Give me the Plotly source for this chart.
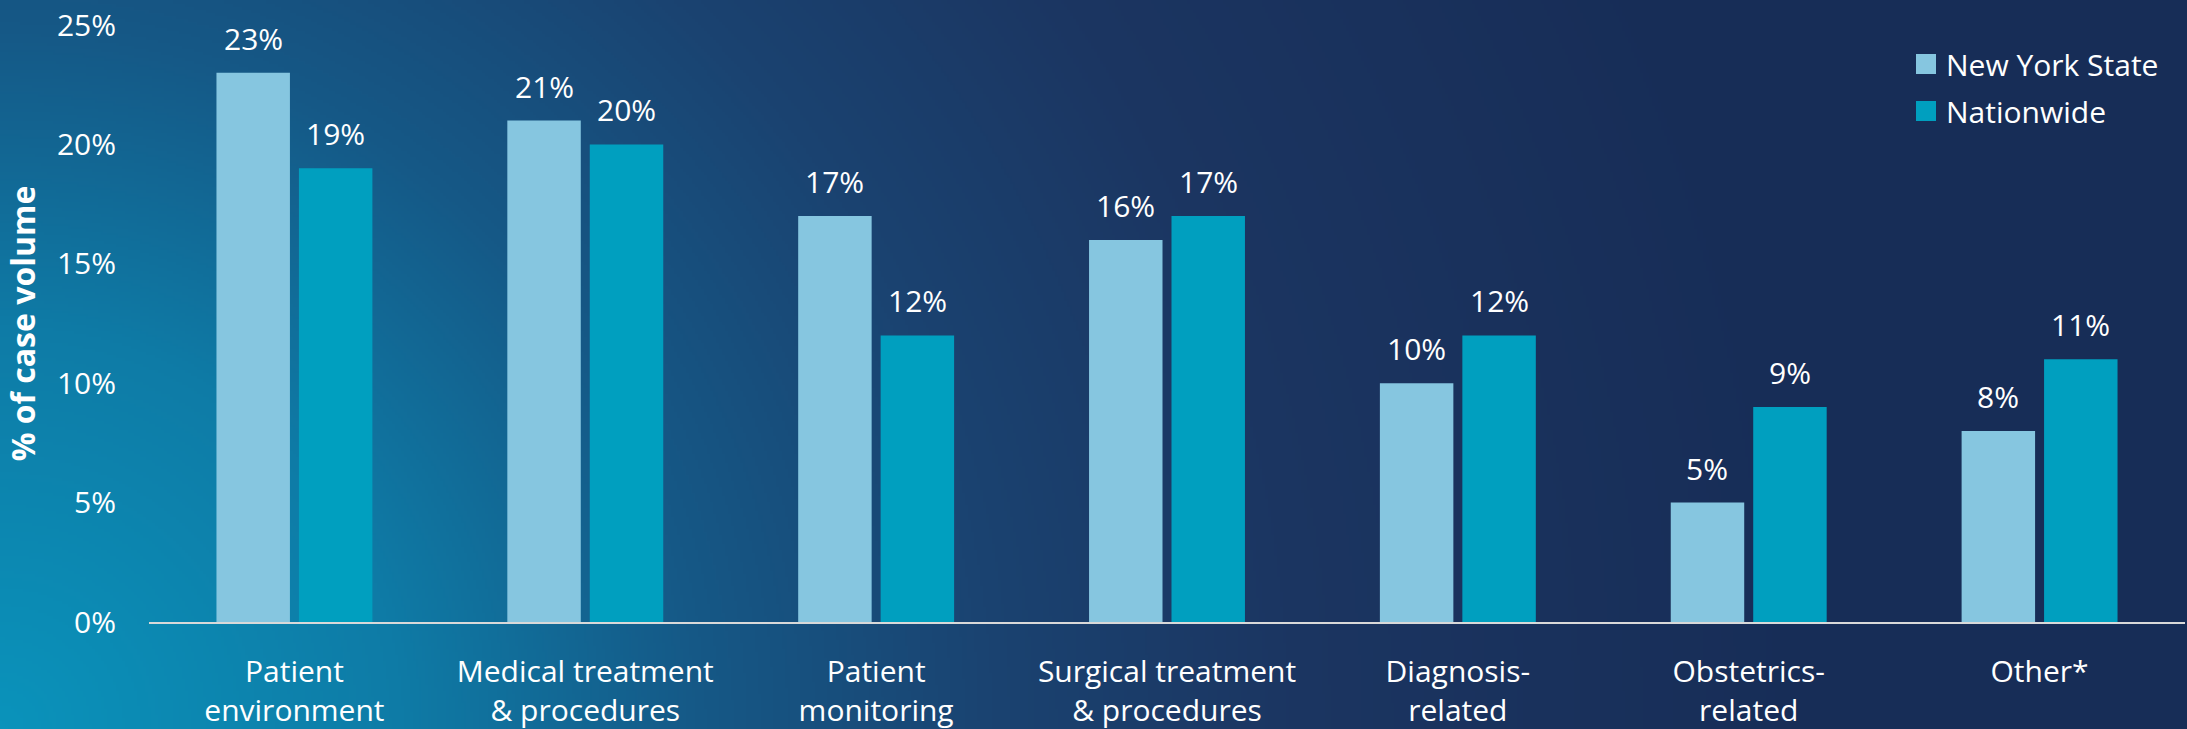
import base64
import struct
import zlib

import numpy as np
import plotly.graph_objects as go

# ---------------- data ----------------
categories = [
    "Patient<br>environment",
    "Medical treatment<br>& procedures",
    "Patient<br>monitoring",
    "Surgical treatment<br>& procedures",
    "Diagnosis-<br>related",
    "Obstetrics-<br>related",
    "Other*",
]
ny_state = [23, 21, 17, 16, 10, 5, 8]
nationwide = [19, 20, 12, 17, 12, 9, 11]
series_names = ["New York State", "Nationwide"]
y_ticks = [0, 5, 10, 15, 20, 25]
y_tick_labels = ["0%", "5%", "10%", "15%", "20%", "25%"]

# ---------------- layout constants ----------------
W, H = 2187, 729
ML, MR, MT, MB = 149, 2, 25, 107
PW, PH = W - ML - MR, H - MT - MB
FONT = "Open Sans"
C_NY = "#86C6E0"
C_NAT = "#009FBF"


# ---------------- gradient background (radial from bottom-left) ----------------
def gradient_png(w, h, scale):
    ys, xs = np.mgrid[0:h, 0:w].astype(float)
    xs = (xs + 0.5) * scale
    ys = (ys + 0.5) * scale
    d = np.sqrt(xs ** 2 + (H - ys) ** 2)
    stops_d = [0, 400, 700, 1000, 1300, 1800, 3000]
    stops_c = ["#0a93bb", "#0e7ba6", "#155886", "#1a4270", "#1b3561", "#172d57", "#172d57"]
    rgb = np.array([[int(c[i:i + 2], 16) for i in (1, 3, 5)] for c in stops_c], float)
    img = np.stack([np.interp(d, stops_d, rgb[:, k]) for k in range(3)], axis=-1)
    img = np.clip(np.round(img), 0, 255).astype(np.uint8)
    raw = b"".join(b"\x00" + img[r].tobytes() for r in range(h))

    def chunk(tag, data):
        return (struct.pack(">I", len(data)) + tag + data
                + struct.pack(">I", zlib.crc32(tag + data) & 0xFFFFFFFF))

    png = (b"\x89PNG\r\n\x1a\n"
           + chunk(b"IHDR", struct.pack(">IIBBBBB", w, h, 8, 2, 0, 0, 0))
           + chunk(b"IDAT", zlib.compress(raw, 9))
           + chunk(b"IEND", b""))
    return "data:image/png;base64," + base64.b64encode(png).decode()


bg_uri = gradient_png(W // 3, H // 3, 3)

fig = go.Figure()

fig.add_trace(go.Bar(x=categories, y=ny_state, name=series_names[0],
                     marker=dict(color=C_NY, line=dict(width=0)),
                     showlegend=False, hoverinfo="x+y"))
fig.add_trace(go.Bar(x=categories, y=nationwide, name=series_names[1],
                     marker=dict(color=C_NAT, line=dict(width=0)),
                     showlegend=False, hoverinfo="x+y"))

# legend entries (square markers)
for nm, col, grp in [(series_names[0], C_NY, "a"), (series_names[1], C_NAT, "b")]:
    fig.add_trace(go.Scatter(x=[categories[0]], y=[None], mode="markers", name=nm,
                             legendgroup=grp,
                             marker=dict(symbol="square", size=16, color=col,
                                         line=dict(width=4, color=col)),
                             showlegend=True, hoverinfo="skip"))

# value labels
slot = PW / len(categories) * (1 - 0.433) / 2
annotations = []
for vals, sign in [(ny_state, -1), (nationwide, 1)]:
    for cat, v in zip(categories, vals):
        annotations.append(dict(x=cat, y=v, xref="x", yref="y", text=f"{v}%",
                                showarrow=False, yanchor="bottom", xanchor="center",
                                xshift=sign * slot / 2, yshift=12,
                                font=dict(family=FONT, size=30, color="white")))

fig.update_layout(
    width=W, height=H,
    margin=dict(l=ML, r=MR, t=MT, b=MB, pad=0),
    paper_bgcolor="#172d57",
    plot_bgcolor="rgba(0,0,0,0)",
    barmode="group",
    bargap=0.433,
    bargroupgap=0.109,
    font=dict(family=FONT, size=30, color="white"),
    images=[dict(source=bg_uri, xref="paper", yref="paper",
                 x=-ML / PW, y=1 + MT / PH, sizex=W / PW, sizey=H / PH,
                 xanchor="left", yanchor="top", sizing="stretch", layer="below")],
    legend=dict(x=(1906 - ML) / PW, xanchor="left", y=(H - MB - 38) / PH, yanchor="top",
                bgcolor="rgba(0,0,0,0)", tracegroupgap=5,
                font=dict(family=FONT, size=30, color="white")),
    annotations=annotations,
    showlegend=True,
)

fig.update_xaxes(showline=True, linecolor="#D9D9D9", linewidth=2, showgrid=False,
                 ticks="", tickfont=dict(family=FONT, size=30, color="white"),
                 ticklabelstandoff=22, fixedrange=True, automargin=False)
fig.update_yaxes(range=[0, 25], tickmode="array", tickvals=y_ticks, ticktext=y_tick_labels,
                 showgrid=False, zeroline=False, showline=False, ticks="",
                 tickfont=dict(family=FONT, size=30, color="white"),
                 ticklabelstandoff=32, automargin=False, fixedrange=True,
                 title=dict(text="<b>% of case volume</b>", standoff=11,
                            font=dict(family=FONT, size=32, color="white")))

fig.write_html("out.html")
